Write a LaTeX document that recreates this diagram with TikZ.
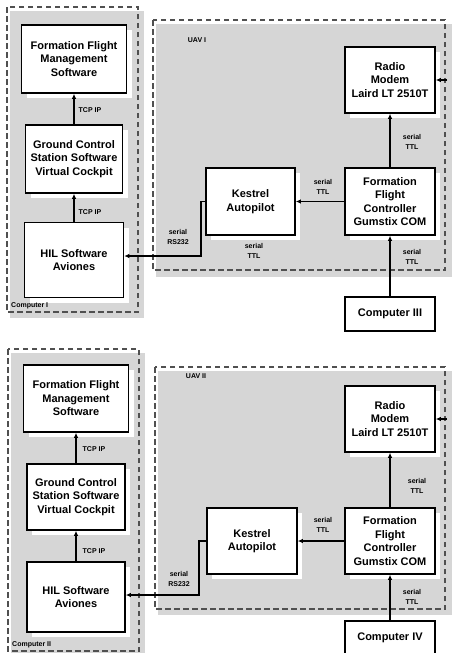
\documentclass[tikz,border=0pt]{standalone}
\usepackage{fontspec}
\setmainfont{Liberation Sans}
\usetikzlibrary{arrows.meta,shadows}
\definecolor{panelgray}{RGB}{214,214,214}
\definecolor{dashgray}{RGB}{80,80,80}

\tikzset{
  unit/.style={draw=black, line width=1.5pt, fill=white, align=center,
    inner sep=0pt, font=\bfseries\fontsize{11}{13.5}\selectfont,
    drop shadow={shadow xshift=5pt, shadow yshift=-5pt, fill=white, opacity=1}},
  panel/.style={draw=dashgray, line width=1.2pt, dash pattern=on 5.5pt off 3.5pt},
  tag/.style={font=\bfseries\fontsize{7}{9}\selectfont, inner sep=0pt, align=center},
  note/.style={font=\bfseries\fontsize{7}{9.5}\selectfont, inner sep=0pt, align=center},
  link/.style={line width=1.5pt, -{Latex[length=5pt,width=4.5pt]}},
}

\begin{document}
\begin{tikzpicture}[x=1pt,y=-1pt]
\useasboundingbox (0,0) rectangle (451,653);

% ---- panels (grey backing + dashed outline) ----
\fill[panelgray] (10,11) rectangle (144,318);
\draw[panel] (7,7) rectangle (138,312);
\fill[panelgray] (156,24) rectangle (452,277);
\draw[panel] (153,20) rectangle (445,270);
\fill[panelgray] (11,353) rectangle (145,660);
\draw[panel] (8,349) rectangle (139,651);
\fill[panelgray] (158,371) rectangle (452,615);
\draw[panel] (155,367) rectangle (445,609);

% ---- upper system ----
\node[unit, minimum width=105pt, minimum height=68pt] (ffms1) at (74,59)
  {Formation Flight\\Management\\Software};
\node[unit, minimum width=97pt, minimum height=68pt] (gcs1) at (74,159)
  {Ground Control\\Station Software\\Virtual Cockpit};
\node[unit, minimum width=99pt, minimum height=75pt] (hil1) at (74,260)
  {HIL Software\\Aviones};
\node[unit, minimum width=90pt, minimum height=66pt] (radio1) at (390,80)
  {Radio\\Modem\\Laird LT 2510T};
\node[unit, minimum width=90pt, minimum height=67pt] (ffc1) at (390,201.5)
  {Formation\\Flight\\Controller\\Gumstix COM};
\node[unit, minimum width=89pt, minimum height=67pt] (kes1) at (250.5,201.5)
  {Kestrel\\Autopilot};
\node[unit, minimum width=90pt, minimum height=34pt] (comp3) at (390,314)
  {Computer III};

\coordinate (r1in) at (447,80);
\coordinate (k1) at (201,256);

\draw[link] (gcs1.north) -- (ffms1.south);
\draw[link] (hil1.north) -- (gcs1.south);
\draw[link] (ffc1.north) -- (radio1.south);
\draw[link] (comp3.north) -- (ffc1.south);
\draw[link] (ffc1.west) -- (kes1.east);
\draw[link] (r1in) -- (radio1.east |- r1in);
\draw[link] (kes1.west) -| (k1) -- (k1 -| hil1.east);

\node[note] (t1a) at (90,110) {TCP IP};
\node[note] (t1b) at (90,212) {TCP IP};
\node[note] (s1a) at (412,142) {serial\\TTL};
\node[note] (s1b) at (323,187) {serial\\TTL};
\node[note] (s1c) at (254,251) {serial\\TTL};
\node[note] (s1d) at (412,257) {serial\\TTL};
\node[note] (s1e) at (178,237) {serial\\RS232};

% ---- lower system ----
\node[unit, minimum width=105pt, minimum height=67pt] (ffms2) at (76,398.5)
  {Formation Flight\\Management\\Software};
\node[unit, minimum width=98pt, minimum height=66pt] (gcs2) at (76,497)
  {Ground Control\\Station Software\\Virtual Cockpit};
\node[unit, minimum width=98pt, minimum height=70pt] (hil2) at (76,597)
  {HIL Software\\Aviones};
\node[unit, minimum width=90pt, minimum height=66pt] (radio2) at (390,419)
  {Radio\\Modem\\Laird LT 2510T};
\node[unit, minimum width=90pt, minimum height=66pt] (ffc2) at (390,541)
  {Formation\\Flight\\Controller\\Gumstix COM};
\node[unit, minimum width=90pt, minimum height=66pt] (kes2) at (252,541)
  {Kestrel\\Autopilot};
\node[unit, minimum width=90pt, minimum height=34pt] (comp4) at (390,638)
  {Computer IV};

\coordinate (r2in) at (447,419);
\coordinate (k2) at (199,595);

\draw[link] (gcs2.north) -- (ffms2.south);
\draw[link] (hil2.north) -- (gcs2.south);
\draw[link] (ffc2.north) -- (radio2.south);
\draw[link] (comp4.north) -- (ffc2.south);
\draw[link] (ffc2.west) -- (kes2.east);
\draw[link] (r2in) -- (radio2.east |- r2in);
\draw[link] (kes2.west) -| (k2) -- (k2 -| hil2.east);

\node[note] (t2a) at (94,449) {TCP IP};
\node[note] (t2b) at (94,551) {TCP IP};
\node[note] (s2a) at (417,486) {serial\\TTL};
\node[note] (s2b) at (323,525) {serial\\TTL};
\node[note] (s2d) at (412,597) {serial\\TTL};
\node[note] (s2e) at (179,579) {serial\\RS232};

% ---- panel captions, kept above the box shadows ----
\node[tag, anchor=west] (pc1) at (11,306) {Computer I};
\node[tag] (uav1) at (197,40) {UAV I};
\node[tag, anchor=west] (pc2) at (12,645) {Computer II};
\node[tag] (uav2) at (196,376) {UAV II};
\end{tikzpicture}
\end{document}
